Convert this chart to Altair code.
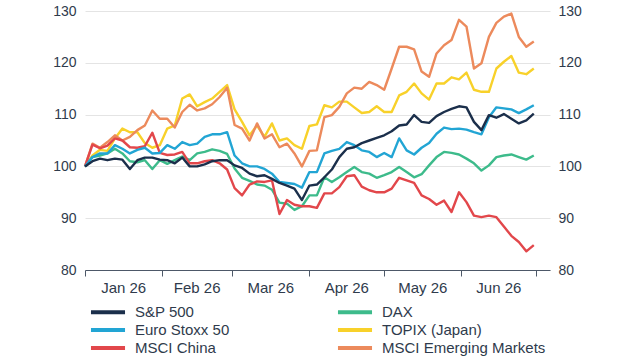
import altair as alt
import pandas as pd

# Day offsets from 1 Jan 2026 (every third day up to 30 Jun 2026)
days = list(range(0, 181, 3))

sp500 = [100.0, 101.0, 101.5, 101.2, 101.5, 101.3, 99.5, 101.2, 101.7, 101.7,
         101.3, 101.2, 100.6, 101.7, 100.0, 100.0, 100.4, 101.0, 101.2, 101.2,
         100.2, 99.7, 98.6, 98.1, 98.3, 97.6, 96.8, 96.3, 95.7, 93.5,
         96.3, 96.5, 97.9, 99.4, 101.8, 103.4, 103.7, 104.5, 105.0, 105.5,
         106.0, 106.8, 107.9, 108.1, 109.9, 108.6, 108.4, 109.7, 110.5, 111.1,
         111.6, 111.4, 108.6, 107.0, 109.9, 109.4, 110.1, 109.2, 108.3, 108.9,
         110.2]
eurostoxx = [100.0, 101.8, 102.5, 102.5, 104.1, 103.4, 102.5, 103.2, 103.6, 102.5,
             102.6, 104.1, 103.4, 104.7, 104.1, 104.4, 105.7, 106.2, 106.2, 106.6,
             102.1, 100.6, 100.0, 100.0, 99.5, 98.6, 97.0, 96.8, 96.6, 95.9,
             98.9, 98.9, 102.5, 103.0, 103.4, 104.7, 104.1, 103.1, 102.8, 101.8,
             102.6, 101.8, 105.4, 103.1, 102.3, 103.6, 104.5, 106.3, 107.5, 107.2,
             107.3, 107.1, 106.6, 106.2, 109.5, 111.4, 111.2, 111.0, 110.3, 111.0,
             111.8]
china = [100.0, 104.2, 103.5, 104.0, 105.4, 105.0, 103.7, 103.6, 103.9, 106.5,
         102.6, 102.2, 102.3, 102.8, 100.6, 100.6, 101.0, 101.2, 100.6, 99.4,
         95.8, 94.4, 96.5, 97.1, 97.0, 97.3, 90.8, 93.5, 92.6, 92.3,
         92.3, 92.0, 94.8, 94.8, 96.0, 98.1, 98.3, 96.1, 95.4, 95.0,
         95.0, 95.7, 97.8, 97.3, 96.8, 94.4, 93.7, 92.6, 93.4, 91.2,
         95.0, 93.1, 90.5, 90.2, 90.5, 90.2, 88.4, 86.6, 85.4, 83.6,
         84.8]
dax = [100.0, 101.8, 102.1, 102.5, 103.4, 102.5, 101.0, 100.8, 101.2, 99.5,
       101.2, 100.5, 101.2, 101.9, 101.2, 102.5, 102.8, 103.3, 103.0, 102.4,
       99.6, 97.8, 97.2, 96.5, 96.3, 95.5, 93.0, 92.8, 91.6, 92.3,
       94.4, 94.4, 97.9, 97.0, 97.9, 98.9, 99.9, 98.9, 98.6, 97.8,
       98.3, 98.9, 99.9, 98.9, 97.9, 98.5, 100.2, 101.8, 102.8, 102.6,
       102.3, 101.5, 100.6, 99.2, 100.2, 101.8, 102.1, 102.3, 101.8, 101.3,
       102.1]
topix = [100.0, 102.1, 103.2, 103.0, 105.4, 107.3, 106.6, 106.6, 104.5, 103.6,
         104.1, 107.3, 107.9, 113.1, 113.9, 111.6, 112.4, 113.1, 114.4, 115.7,
         111.0, 108.6, 106.0, 107.9, 105.7, 108.3, 105.0, 105.4, 104.1, 103.4,
         107.8, 108.1, 111.8, 111.4, 112.5, 112.5, 111.4, 110.3, 110.5, 111.6,
         110.5, 110.5, 113.7, 114.4, 116.0, 114.1, 112.9, 116.0, 116.0, 117.2,
         116.8, 118.1, 114.8, 114.4, 114.4, 118.9, 120.2, 121.3, 118.1, 117.8,
         118.9]
emerging = [100.0, 104.4, 103.6, 104.7, 106.0, 105.0, 105.7, 107.0, 107.9, 110.8,
            109.2, 109.2, 107.5, 110.5, 111.9, 110.8, 111.2, 112.0, 113.4, 115.2,
            108.0, 107.3, 105.0, 108.3, 105.4, 106.2, 103.7, 104.4, 102.5, 100.0,
            103.0, 103.1, 109.5, 109.9, 111.5, 114.1, 115.2, 115.0, 116.3, 115.7,
            114.8, 118.9, 123.1, 123.1, 122.6, 118.3, 117.3, 121.8, 123.4, 124.4,
            128.3, 127.0, 118.9, 119.9, 125.0, 127.7, 128.9, 129.5, 125.0, 123.1,
            124.1]

# Legend order (filled column by column, three rows)
series_names = ["S&P 500", "Euro Stoxx 50", "MSCI China",
                "DAX", "TOPIX (Japan)", "MSCI Emerging Markets"]
series_colors = ["#1b2f4b", "#22a5d4", "#e2474b", "#3dbb8b", "#f8d12a", "#ec8a5c"]

# Drawing order (first drawn at the bottom)
draw_order = [("TOPIX (Japan)", topix), ("MSCI Emerging Markets", emerging),
              ("DAX", dax), ("MSCI China", china), ("Euro Stoxx 50", eurostoxx),
              ("S&P 500", sp500)]

month_starts = [0, 31, 59, 90, 120, 151, 181]
month_labels = ["Jan 26", "Feb 26", "Mar 26", "Apr 26", "May 26", "Jun 26"]
month_mids = [15.5, 45, 74.5, 105, 135.5, 166]
y_ticks = [80, 90, 100, 110, 120, 130]

rows = []
for k, (name, vals) in enumerate(draw_order):
    for d, v in zip(days, vals):
        rows.append({"series": name, "day": d, "value": v, "k": k})
df = pd.DataFrame(rows)
months_df = pd.DataFrame({"mid": month_mids, "label": month_labels})

TXT = "#2f3b4c"
AXC = "#4d5868"
GRID = "#e4e4e4"

x_scale = alt.Scale(domain=[0, 186.5], nice=False, zero=False)
y_scale = alt.Scale(domain=[80, 130], nice=False, zero=False)
x_axis = alt.Axis(values=month_starts, labels=False, ticks=True, tickSize=6,
                  tickColor=AXC, domainColor=AXC, domainWidth=1, tickWidth=1,
                  grid=False, title=None)

lines = alt.Chart(df).mark_line(strokeWidth=2.4, strokeJoin="round").encode(
    x=alt.X("day:Q", scale=x_scale, axis=x_axis),
    y=alt.Y("value:Q", scale=y_scale,
            axis=alt.Axis(orient="left", values=y_ticks, grid=True, gridColor=GRID,
                          domain=False, ticks=False, labelPadding=9, title=None,
                          labelFontSize=14, labelColor=TXT)),
    color=alt.Color("series:N",
                    scale=alt.Scale(domain=series_names, range=series_colors),
                    legend=alt.Legend(orient="none", legendX=13.5, legendY=291.5,
                                      columns=2, columnPadding=100, rowPadding=-2.5,
                                      symbolType="M-2.27,0H2.27", symbolSize=225,
                                      symbolStrokeWidth=4, labelFontSize=15,
                                      labelLimit=400,
                                      labelColor=TXT, labelOffset=17.5, title=None)),
    order=alt.Order("k:Q"),
    detail="series:N",
)

right = alt.Chart(df).mark_line(strokeOpacity=0).encode(
    x=alt.X("day:Q", scale=x_scale, axis=x_axis),
    y=alt.Y("value:Q", scale=y_scale,
            axis=alt.Axis(orient="right", values=y_ticks, grid=False, domain=False,
                          ticks=False, labelPadding=8, title=None,
                          labelFontSize=14, labelColor=TXT)),
    detail="series:N",
)

month_text = alt.Chart(months_df).mark_text(
    fontSize=15, color=TXT, baseline="middle", align="center").encode(
    x=alt.X("mid:Q", scale=x_scale, axis=x_axis),
    y=alt.value(277),
    text="label:N",
)

chart = alt.layer(lines, right, month_text).resolve_axis(y="independent").properties(
    width=465, height=259,
    autosize=alt.AutoSizeParams(type="none"),
    padding={"left": 85, "top": 11, "right": 90, "bottom": 90},
).configure(font="Liberation Sans", background="white").configure_view(stroke=None)

chart.save("out.html", embed_options={"renderer": "svg", "actions": False})
